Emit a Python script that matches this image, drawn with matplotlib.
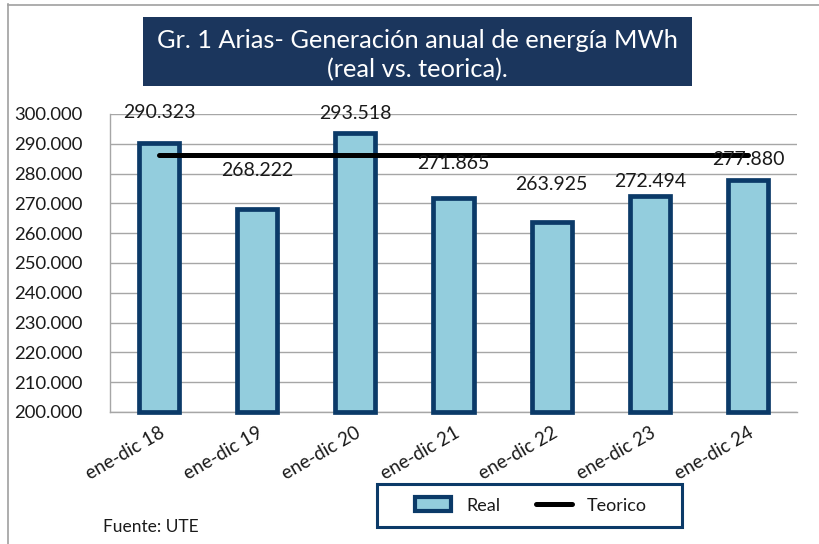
import matplotlib
matplotlib.use("Agg")
import matplotlib.pyplot as plt
from matplotlib.patches import Rectangle, Patch
from matplotlib.lines import Line2D
from matplotlib.ticker import FuncFormatter

categories = ["ene-dic 18", "ene-dic 19", "ene-dic 20", "ene-dic 21",
              "ene-dic 22", "ene-dic 23", "ene-dic 24"]
real_values = [290323, 268222, 293518, 271865, 263925, 272494, 277880]
teorico_value = 286300
title_lines = ["Gr. 1 Arias- Generación anual de energía MWh", "(real vs. teorica)."]

# label offsets above bar tops (pixels) - layout only
label_offsets_px = [30, 38, 20, 34, 37, 14, 20]

plt.rcParams['font.family'] = ['Lato', 'DejaVu Sans']

NAVY = "#0B3A68"
FILL = "#93CDDD"
GRID = "#A6A6A6"
TITLE_BG = "#1B365D"
TXT = "#1a1a1a"

W, H = 819, 544
fig = plt.figure(figsize=(W / 100, H / 100), dpi=100)
ax = fig.add_axes([110 / W, 1 - 412 / H, (797 - 110) / W, (412 - 114) / H])

ymin, ymax = 200000, 300000
x = list(range(len(categories)))
heights = [v - ymin for v in real_values]
ax.bar(x, heights, bottom=ymin, width=0.41, color=FILL, edgecolor=NAVY,
       linewidth=3.4, zorder=3, clip_on=False)
ax.plot([x[0], x[-1]], [teorico_value, teorico_value], color="black",
        linewidth=3.6, solid_capstyle="round", zorder=4)

def fmt_thousands(v):
    return f"{v:,.0f}".replace(",", ".")

for xi, v, off in zip(x, real_values, label_offsets_px):
    ax.annotate(fmt_thousands(v), (xi, v), xytext=(0, off), textcoords="offset pixels",
                ha="center", va="center", fontsize=14, color=TXT, zorder=5)

ax.set_xlim(-0.5, len(categories) - 0.5)
ax.set_ylim(ymin, ymax)
ax.set_yticks(range(ymin, ymax + 1, 10000))
ax.yaxis.set_major_formatter(FuncFormatter(lambda v, p: fmt_thousands(v)))
ax.set_xticks(x)
ax.set_xticklabels(categories, rotation=30, ha="right", rotation_mode="anchor")
ax.tick_params(axis="y", length=0, labelsize=13.3, pad=20, labelcolor=TXT)
ax.tick_params(axis="x", length=0, labelsize=13.5, pad=9, labelcolor=TXT)
ax.grid(axis="y", color=GRID, linewidth=1, zorder=0)
ax.set_axisbelow(True)
for s in ["top", "right"]:
    ax.spines[s].set_visible(False)
for s in ["left", "bottom"]:
    ax.spines[s].set_color(GRID)
    ax.spines[s].set_linewidth(1)

# title box
fig.patches.append(Rectangle((143 / W, 1 - 86 / H), 549 / W, 69 / H,
                             transform=fig.transFigure, facecolor=TITLE_BG,
                             edgecolor="none", zorder=1))
fig.text(417.5 / W, 1 - 40 / H, title_lines[0], ha="center", va="center",
         color="white", fontsize=18.3, zorder=2)
fig.text(417.5 / W, 1 - 70 / H, title_lines[1], ha="center", va="center",
         color="white", fontsize=18.3, zorder=2)

# outer frame lines
fig.add_artist(Line2D([7.5 / W, 7.5 / W], [0, 1 - 4 / H], transform=fig.transFigure,
                      color="#A0A0A0", linewidth=1.2))
fig.add_artist(Line2D([7.5 / W, 1], [1 - 4.5 / H, 1 - 4.5 / H], transform=fig.transFigure,
                      color="#A0A0A0", linewidth=1.2))

# legend frame
fig.patches.append(Rectangle((377 / W, 1 - 527 / H), 305 / W, 43 / H,
                             transform=fig.transFigure, facecolor="white",
                             edgecolor=NAVY, linewidth=2.2, zorder=1))
handles = [Patch(facecolor=FILL, edgecolor=NAVY, linewidth=3, label="Real"),
           Line2D([0], [0], color="black", linewidth=3.6, solid_capstyle="round", label="Teorico")]
leg = fig.legend(handles=handles, loc="center", bbox_to_anchor=(531 / W, 1 - 505.5 / H),
                 ncol=2, fontsize=13, frameon=False,
                 handlelength=2.0, handleheight=0.8, columnspacing=2.0,
                 borderpad=0.3, handletextpad=0.8)
for t in leg.get_texts():
    t.set_color(TXT)

fig.text(103 / W, 1 - 527 / H, "Fuente: UTE", ha="left", va="center",
         fontsize=12.5, color=TXT)

fig.savefig("out.png", dpi=100)
